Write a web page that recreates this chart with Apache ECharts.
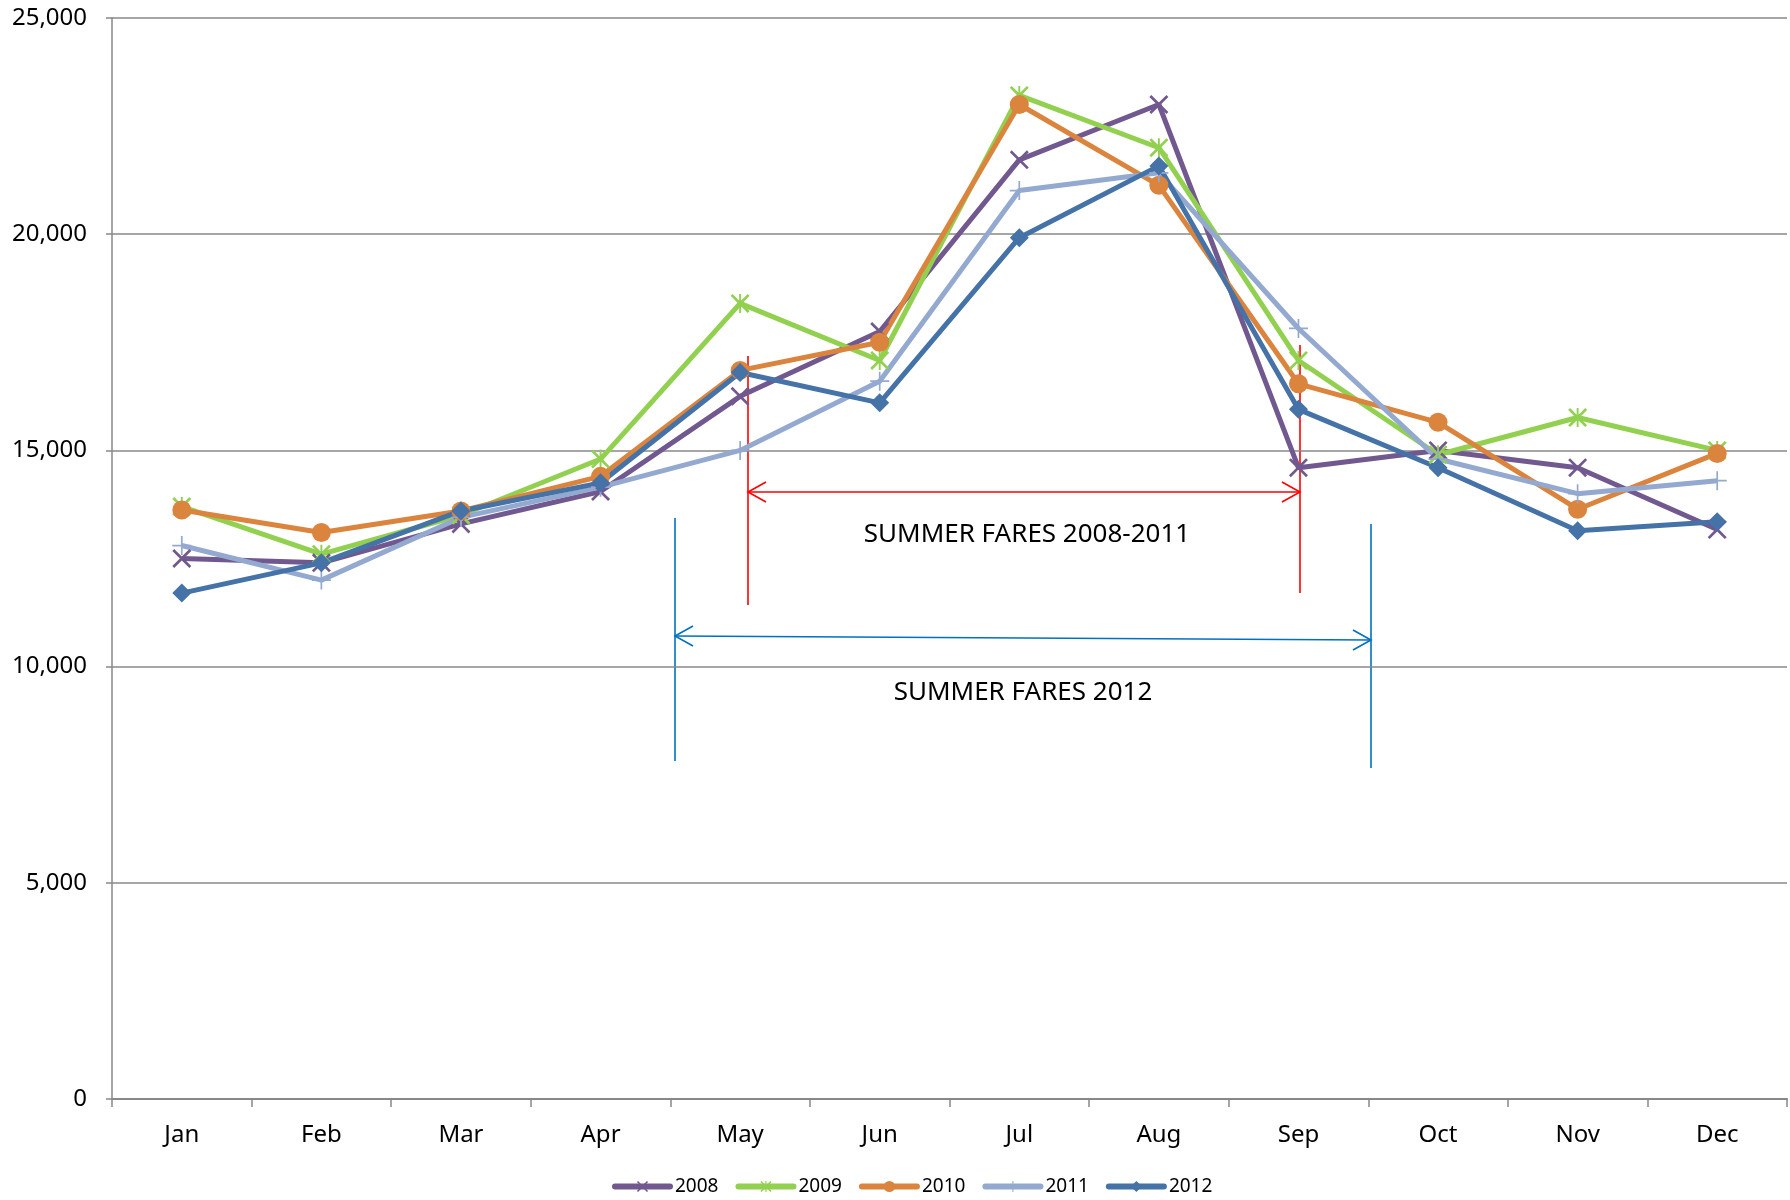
<!DOCTYPE html>
<html>
<head>
<meta charset="utf-8">
<title>Summer fares by month</title>
<script src="https://cdn.jsdelivr.net/npm/echarts@6/dist/echarts.min.js"></script>
<style>
  html, body { margin: 0; padding: 0; background: #fff; }
  #chart { width: 1790px; height: 1200px; }
</style>
</head>
<body>
<div id="chart"></div>
<script>
var months = ['Jan', 'Feb', 'Mar', 'Apr', 'May', 'Jun', 'Jul', 'Aug', 'Sep', 'Oct', 'Nov', 'Dec'];
var years = ['2008', '2009', '2010', '2011', '2012'];

// values
var v2008 = [12500, 12400, 13300, 14050, 16250, 17750, 21720, 23000, 14600, 15000, 14600, 13170];
var v2009 = [13700, 12600, 13500, 14800, 18400, 17080, 23210, 22000, 17080, 14900, 15760, 15000];
var v2010 = [13620, 13100, 13600, 14400, 16850, 17500, 23000, 21130, 16540, 15650, 13640, 14930];
var v2011 = [12800, 12000, 13450, 14150, 15000, 16600, 21010, 21420, 17820, 14800, 14000, 14300];
var v2012 = [11700, 12400, 13600, 14250, 16800, 16100, 19920, 21580, 15950, 14600, 13140, 13350];

var yMin = 0, yMax = 25000, yStep = 5000;

var colors = ['#71588F', '#92D050', '#DB843D', '#93A9CF', '#4572A7'];

// marker shapes (filled paths)
var xMark = 'path://M1,0L5,4L9,0L10,1L6,5L10,9L9,10L5,6L1,10L0,9L4,5L0,1Z';
var starMark = 'path://M1,0L5,4L9,0L10,1L6,5L10,9L9,10L5,6L1,10L0,9L4,5L0,1Z M4.5,0L5.5,0L5.5,10L4.5,10Z';
var plusMark = 'path://M4.55,0L5.45,0L5.45,4.55L10,4.55L10,5.45L5.45,5.45L5.45,10L4.55,10L4.55,5.45L0,5.45L0,4.55L4.55,4.55Z';
var symbols = [xMark, starMark, 'circle', plusMark, 'diamond'];
var allValues = [v2008, v2009, v2010, v2011, v2012];

var chart = echarts.init(document.getElementById('chart'));

function arrowHead(x, y, dir, color) {
  // open V arrow head, dir = -1 points left, 1 points right
  return {
    type: 'polyline',
    shape: { points: [[x - dir * 18, y - 10], [x, y], [x - dir * 18, y + 10]] },
    style: { stroke: color, lineWidth: 1.6, fill: null }
  };
}

function vline(x, y1, y2, color) {
  return {
    type: 'line',
    shape: { x1: x, y1: y1, x2: x, y2: y2 },
    style: { stroke: color, lineWidth: 1.6 }
  };
}

var red = '#FF0000';
var blue = '#0070C0';

var series = years.map(function (name, i) {
  return {
    name: name,
    type: 'line',
    data: allValues[i],
    symbol: symbols[i],
    symbolSize: 19,
    showAllSymbol: true,
    lineStyle: { width: 5, color: colors[i] },
    itemStyle: { color: colors[i] },
    emphasis: { disabled: true }
  };
});

chart.setOption({
  animation: false,
  backgroundColor: '#fff',
  textStyle: { fontFamily: 'Noto Sans' },
  grid: { left: 112, right: 3, top: 18, bottom: 101 },
  legend: {
    data: years,
    left: 607,
    top: 1172,
    itemWidth: 55,
    itemHeight: 14,
    itemGap: 17,
    lineStyle: { width: 6, cap: 'round' },
    textStyle: { fontSize: 19, color: '#000', fontFamily: 'Noto Sans' }
  },
  xAxis: {
    type: 'category',
    data: months,
    boundaryGap: true,
    axisLine: { lineStyle: { color: '#888', width: 2 } },
    axisTick: { show: true, length: 8, lineStyle: { color: '#888', width: 1.5 } },
    axisLabel: { fontSize: 24, color: '#000', margin: 24 }
  },
  yAxis: {
    type: 'value',
    min: yMin,
    max: yMax,
    interval: yStep,
    axisLine: { show: true, lineStyle: { color: '#888', width: 1.5 } },
    axisTick: { show: true, length: 6, lineStyle: { color: '#888', width: 1.5 } },
    splitLine: { lineStyle: { color: '#888', width: 1.5 } },
    axisLabel: {
      fontSize: 24,
      color: '#000',
      margin: 25,
      formatter: function (v) { return v.toLocaleString('en-US'); }
    }
  },
  series: series,
  graphic: [
    // summer fares 2008-2011
    vline(748, 356, 605, red),
    vline(1300, 345, 593, red),
    { type: 'line', shape: { x1: 748, y1: 492, x2: 1300, y2: 492 }, style: { stroke: red, lineWidth: 1.6 } },
    arrowHead(748, 492, -1, red),
    arrowHead(1300, 492, 1, red),
    {
      type: 'text', x: 1027, y: 535,
      style: { text: 'SUMMER FARES 2008-2011', fill: '#000', font: '26px "Noto Sans"', align: 'center', verticalAlign: 'middle' }
    },
    // summer fares 2012
    vline(675, 518, 761, blue),
    vline(1371, 524, 768, blue),
    { type: 'line', shape: { x1: 675, y1: 636, x2: 1371, y2: 640 }, style: { stroke: blue, lineWidth: 1.6 } },
    arrowHead(675, 636, -1, blue),
    arrowHead(1371, 640, 1, blue),
    {
      type: 'text', x: 1023, y: 693,
      style: { text: 'SUMMER FARES 2012', fill: '#000', font: '26px "Noto Sans"', align: 'center', verticalAlign: 'middle' }
    }
  ]
});
</script>
</body>
</html>
